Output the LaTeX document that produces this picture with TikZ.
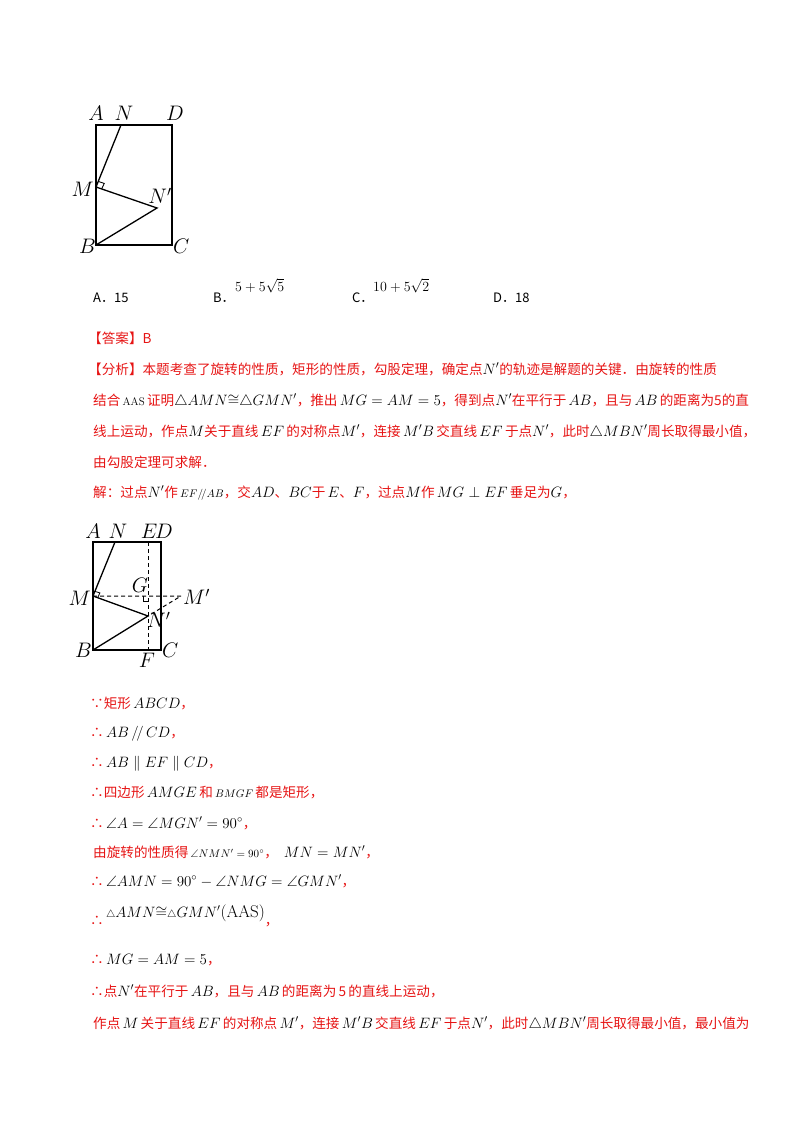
\RequirePackage{fix-cm}
\documentclass[tikz,border=0pt]{standalone}
\usepackage{amsmath,amssymb}
\usepackage{fontspec}
\usetikzlibrary{calc}
\newfontfamily\cjk{Noto Sans CJK SC}
\definecolor{myred}{RGB}{230,20,20}
\newcommand{\bk}[1]{\textcolor{black}{\fontsize{15}{15}\selectfont #1}}
\begin{document}
\begin{tikzpicture}[x=1pt,y=-1pt,
  txt/.style={anchor=base west,inner sep=0pt,font=\cjk\fontsize{13.6}{14}\selectfont,text=myred},
  lbl/.style={inner sep=1pt,font=\fontsize{21}{21}\selectfont},
  fig/.style={line width=1.3pt},
  dsh/.style={line width=1pt,dash pattern=on 4pt off 3pt}]
\useasboundingbox (0,0) rectangle (800,1132);
% figure 1
\coordinate (A) at (96,125); \coordinate (D) at (172,125);
\coordinate (C) at (172,245); \coordinate (B) at (96,245);
\coordinate (N) at (121,125); \coordinate (M) at (96,187); \coordinate (Np) at (157,208);
\draw[fig] (A) -- (D) -- (C) -- (B) -- cycle;
\draw[fig] (N) -- (M) -- (Np) -- (B);
\draw[line width=0.9pt] ($(M)!6pt!(N)$) -- ++(6,2) -- ($(M)!6pt!(Np)$);
\node[lbl,anchor=south] (lA) at (96,122) {$A$};
\node[lbl,anchor=south] (lN) at (124,122) {$N$};
\node[lbl,anchor=south] (lD) at (175,122) {$D$};
\node[lbl,anchor=east] (lM) at (95,189) {$M$};
\node[lbl,anchor=south] (lNp) at (160,205) {$N'$};
\node[lbl,anchor=east] (lB) at (97,246) {$B$};
\node[lbl,anchor=west] (lC) at (172,246) {$C$};
% choices
\node[anchor=base west,inner sep=0pt,font=\cjk\fontsize{13}{13}\selectfont] (ca) at (93,302) {A．15};
\node[anchor=base west,inner sep=0pt,font=\cjk\fontsize{13}{13}\selectfont] (cb) at (213,302) {B．};
\node[anchor=base west,inner sep=0pt,font=\fontsize{14}{14}\selectfont] (cbv) at (235,291) {$5+5\sqrt5$};
\node[anchor=base west,inner sep=0pt,font=\cjk\fontsize{13}{13}\selectfont] (cc) at (352,302) {C．};
\node[anchor=base west,inner sep=0pt,font=\fontsize{14}{14}\selectfont] (ccv) at (373,291) {$10+5\sqrt2$};
\node[anchor=base west,inner sep=0pt,font=\cjk\fontsize{13}{13}\selectfont] (cd) at (493,302) {D．18};
% text
\node[txt] (t1) at (88,343) {【答案】B};
\node[txt] (t2) at (88,374) {【分析】本题考查了旋转的性质，矩形的性质，勾股定理，确定点\bk{$N'$}的轨迹是解题的关键．由旋转的性质};
\node[txt] (t3) at (93,405) {结合\,\textcolor{black}{\rmfamily\fontsize{11}{11}\selectfont AAS}\,证明\bk{$\triangle AMN{\cong}\triangle GMN'$}，推出\,\bk{$MG=AM=5$}，得到点\bk{$N'$}在平行于\,\bk{$AB$}，且与\,\bk{$AB$}\,的距离为5的直};
\node[txt] (t4) at (93,436) {线上运动，作点\bk{$M$}关于直线\,\bk{$EF$}\,的对称点\bk{$M'$}，连接\,\bk{$M'B$}\,交直线\,\bk{$EF$}\,于点\bk{$N'$}，此时\bk{$\triangle MBN'$}周长取得最小值，};
\node[txt] (t5) at (93,467) {由勾股定理可求解．};
\node[txt] (t6) at (93,497) {解：过点\bk{$N'$}作\,\textcolor{black}{\fontsize{11}{11}\selectfont$EF/\!/AB$}，交\bk{$AD$}、\bk{$BC$}于\,\bk{$E$}、\bk{$F$}，过点\bk{$M$}作\,\bk{$MG\perp EF$}\,垂足为\bk{$G$}，};
% figure 2
\coordinate (A2) at (93,542); \coordinate (D2) at (161,542);
\coordinate (C2) at (161,650); \coordinate (B2) at (93,650);
\coordinate (N2) at (115,542); \coordinate (E2) at (148,542);
\coordinate (M2) at (93,596); \coordinate (Np2) at (148,616);
\coordinate (Mp2) at (181,596); \coordinate (G2) at (148,596); \coordinate (F2) at (148,650);
\draw[fig] (A2) -- (D2) -- (C2) -- (B2) -- cycle;
\draw[fig] (N2) -- (M2) -- (Np2) -- (B2);
\draw[dsh] (E2) -- (F2);
\draw[dsh] (M2) -- (Mp2) -- (Np2);
\draw[line width=0.8pt] ($(M2)!5pt!(N2)$) -- ++(5,1.5) -- ($(M2)!5pt!(Np2)$);
\draw[line width=0.8pt] (143,596) -- (143,601) -- (148,601);
\node[lbl,anchor=south] (lA2) at (93,540) {$A$};
\node[lbl,anchor=south] (lN2) at (118,540) {$N$};
\node[lbl,anchor=south] (lE2) at (149,540) {$E$};
\node[lbl,anchor=south] (lD2) at (164,540) {$D$};
\node[lbl,anchor=east] (lM2) at (92,598) {$M$};
\node[lbl,anchor=south] (lG2) at (140,594) {$G$};
\node[lbl,anchor=west] (lMp2) at (182,597) {$M'$};
\node[lbl,anchor=north west] (lNp2) at (146,611) {$N'$};
\node[lbl,anchor=east] (lB2) at (93,650) {$B$};
\node[lbl,anchor=west] (lC2) at (161,650) {$C$};
\node[lbl,anchor=north] (lF2) at (147,652) {$F$};
% proof
\node[txt] (p1) at (90,708) {∵矩形\,\bk{$ABCD$}，};
\node[txt] (p2) at (90,737) {∴\,\bk{$AB\,/\!/\,CD$}，};
\node[txt] (p3) at (90,767) {∴\,\bk{$AB\parallel EF\parallel CD$}，};
\node[txt] (p4) at (90,797) {∴四边形\,\bk{$AMGE$}\,和\,\textcolor{black}{\fontsize{11}{11}\selectfont$BMGF$}\,都是矩形，};
\node[txt] (p5) at (90,828) {∴\,\bk{$\angle A=\angle MGN'=90^\circ$}，};
\node[txt] (p6) at (93,857) {由旋转的性质得\,\textcolor{black}{\fontsize{11}{11}\selectfont$\angle NMN'=90^\circ$}，\ \ \bk{$MN=MN'$}，};
\node[txt] (p7) at (90,886) {∴\,\bk{$\angle AMN=90^\circ-\angle NMG=\angle GMN'$}，};
\node[txt] (p8) at (90,925) {∴\,\raisebox{8pt}{\bk{$\scriptstyle\triangle\textstyle AMN{\cong}\scriptstyle\triangle\textstyle GMN'$\fontsize{17}{17}\selectfont\rmfamily(AAS)}}，};
\node[txt] (p9) at (90,964) {∴\,\bk{$MG=AM=5$}，};
\node[txt] (p10) at (90,996) {∴点\bk{$N'$}在平行于\,\bk{$AB$}，且与\,\bk{$AB$}\,的距离为\,5\,的直线上运动，};
\node[txt] (p11) at (93,1028) {作点\,\bk{$M$}\,关于直线\,\bk{$EF$}\,的对称点\,\bk{$M'$}，连接\,\bk{$M'B$}\,交直线\,\bk{$EF$}\,于点\bk{$N'$}，此时\bk{$\triangle MBN'$}周长取得最小值，最小值为};
\end{tikzpicture}
\end{document}
